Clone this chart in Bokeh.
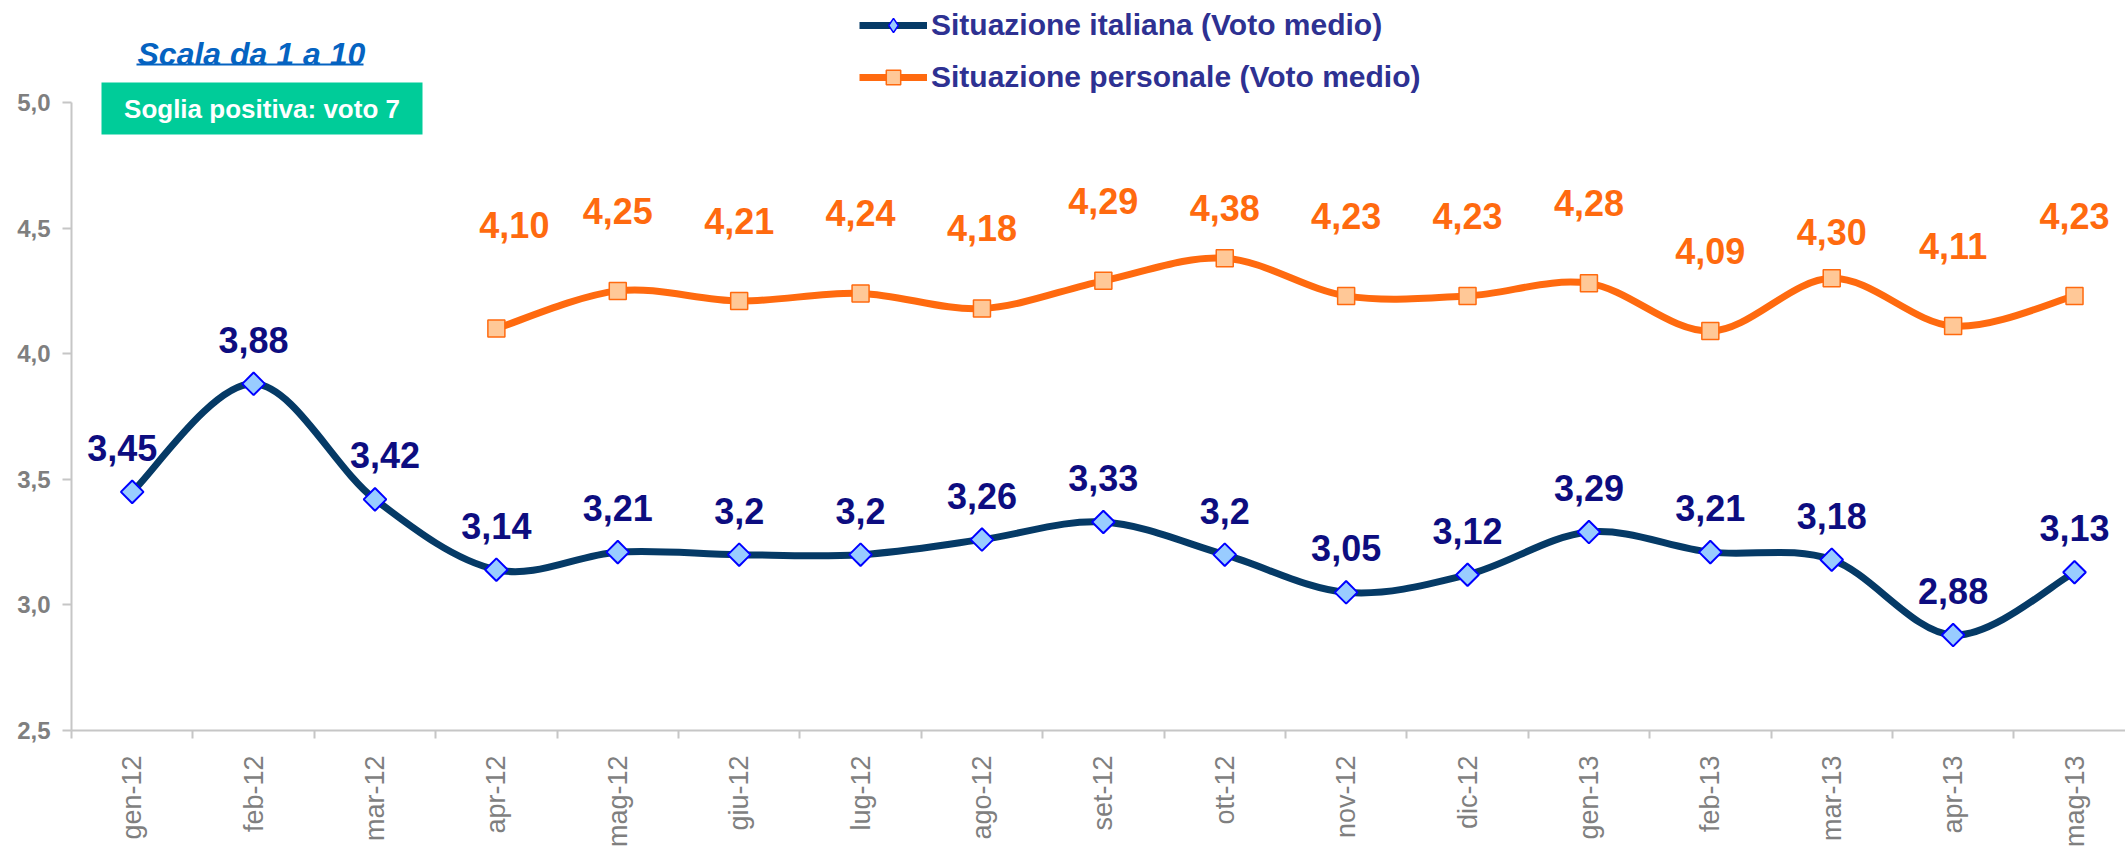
import math
from bokeh.plotting import figure
from bokeh.models import (FixedTicker, Range1d, ColumnDataSource, Label, BoxAnnotation,
                          Legend, LegendItem)
from bokeh.core.properties import value
from bokeh.embed import file_html
from bokeh.resources import INLINE

# ---------------- data ----------------
months = ["gen-12", "feb-12", "mar-12", "apr-12", "mag-12", "giu-12", "lug-12", "ago-12",
          "set-12", "ott-12", "nov-12", "dic-12", "gen-13", "feb-13", "mar-13", "apr-13", "mag-13"]
italiana = [3.45, 3.88, 3.42, 3.14, 3.21, 3.20, 3.20, 3.26, 3.33, 3.20, 3.05, 3.12, 3.29,
            3.21, 3.18, 2.88, 3.13]
personale = [None, None, None, 4.10, 4.25, 4.21, 4.24, 4.18, 4.29, 4.38, 4.23, 4.23, 4.28,
             4.09, 4.30, 4.11, 4.23]
y_ticks = [2.5, 3.0, 3.5, 4.0, 4.5, 5.0]
y_tick_labels = ["2,5", "3,0", "3,5", "4,0", "4,5", "5,0"]
title_text = "Scala da 1 a 10"
badge_text = "Soglia positiva: voto 7"
legend_labels = ["Situazione italiana (Voto medio)", "Situazione personale (Voto medio)"]

# ---------------- style ----------------
NAVY = "#053a66"
ORANGE = "#ff6a0f"
FONT = "Liberation Sans"
AXIS_GRAY = "#c6c6c6"
LABEL_GRAY = "#7f7f7f"

# label offsets (screen px) for the value labels
italiana_dx = {0: -10, 2: 10}
orange_dy = {3: -104, 9: -50, 14: -46}
orange_dx = {3: 18}


def smooth_segments(xs, ys):
    n = len(xs)
    d = dict(x0=[], y0=[], x1=[], y1=[], cx0=[], cy0=[], cx1=[], cy1=[])
    for i in range(n - 1):
        i0, i3 = max(i - 1, 0), min(i + 2, n - 1)
        d["x0"].append(xs[i]); d["y0"].append(ys[i])
        d["x1"].append(xs[i + 1]); d["y1"].append(ys[i + 1])
        d["cx0"].append(xs[i] + (xs[i + 1] - xs[i0]) / 6)
        d["cy0"].append(ys[i] + (ys[i + 1] - ys[i0]) / 6)
        d["cx1"].append(xs[i + 1] - (xs[i3] - xs[i]) / 6)
        d["cy1"].append(ys[i + 1] - (ys[i3] - ys[i]) / 6)
    return d


xi = list(range(len(months)))
xp = [i for i, v in enumerate(personale) if v is not None]
yp = [personale[i] for i in xp]

p = figure(width=2125, height=850,
           x_range=Range1d(-0.5, 16.42), y_range=Range1d(2.5, 5.406),
           output_backend="svg", toolbar_location=None,
           min_border_left=71, min_border_right=0, min_border_top=0, min_border_bottom=113)
p.extra_y_ranges = {"legend_only": Range1d(100, 101)}
p.outline_line_color = None
p.xgrid.visible = False
p.ygrid.visible = False
p.background_fill_color = "white"
p.border_fill_color = "white"

# y axis
ya = p.yaxis[0]
ya.ticker = FixedTicker(ticks=y_ticks, minor_ticks=[])
ya.major_label_overrides = {t: l for t, l in zip(y_ticks, y_tick_labels)}
ya.bounds = (2.5, 5.0)
ya.axis_line_color = AXIS_GRAY
ya.axis_line_width = 2
ya.major_tick_line_color = AXIS_GRAY
ya.major_tick_line_width = 2
ya.major_tick_in = 0
ya.major_tick_out = 9
ya.minor_tick_line_color = None
ya.major_label_text_font = FONT
ya.major_label_text_font_size = "24px"
ya.major_label_text_font_style = "bold"
ya.major_label_text_color = LABEL_GRAY
ya.major_label_standoff = 12

# x axis
xa = p.xaxis[0]
xa.ticker = FixedTicker(ticks=xi, minor_ticks=[i - 0.5 for i in range(len(months) + 1)])
xa.major_label_overrides = {i: m for i, m in enumerate(months)}
xa.axis_line_color = AXIS_GRAY
xa.axis_line_width = 2
xa.major_tick_line_color = None
xa.major_tick_in = 0
xa.major_tick_out = 0
xa.minor_tick_line_color = AXIS_GRAY
xa.minor_tick_line_width = 2
xa.minor_tick_in = 0
xa.minor_tick_out = 8
xa.major_label_orientation = math.pi / 2
xa.major_label_text_font = FONT
xa.major_label_text_font_size = "27px"
xa.major_label_text_color = LABEL_GRAY
xa.major_label_standoff = 17

# smooth lines
p.bezier(source=ColumnDataSource(smooth_segments(xi, italiana)),
         x0="x0", y0="y0", x1="x1", y1="y1", cx0="cx0", cy0="cy0", cx1="cx1", cy1="cy1",
         line_color=NAVY, line_width=7, line_cap="round")
p.bezier(source=ColumnDataSource(smooth_segments(xp, yp)),
         x0="x0", y0="y0", x1="x1", y1="y1", cx0="cx0", cy0="cy0", cx1="cx1", cy1="cy1",
         line_color=ORANGE, line_width=7, line_cap="round")

# markers
p.scatter(xi, italiana, marker="square", angle=math.pi / 4, size=16,
          fill_color="#99ccff", line_color="#0000ff", line_width=2)
p.scatter(xp, yp, marker="square", size=17,
          fill_color="#ffc897", line_color=ORANGE, line_width=1.5)

# value labels
it_src = ColumnDataSource(dict(x=xi, y=italiana,
                               t=[("%g" % v).replace(".", ",") for v in italiana],
                               dx=[italiana_dx.get(i, 0) for i in xi]))
p.text(x="x", y="y", text="t", source=it_src, y_offset=-44, x_offset="dx",
       text_align="center", text_baseline="middle",
       text_font=value(FONT), text_font_size="36px", text_font_style="bold",
       text_color="#0d0d80")
pe_src = ColumnDataSource(dict(x=xp, y=yp,
                               t=[("%.2f" % v).replace(".", ",") for v in yp],
                               dy=[orange_dy.get(i, -80) for i in xp],
                               dx=[orange_dx.get(i, 0) for i in xp]))
p.text(x="x", y="y", text="t", source=pe_src, y_offset="dy", x_offset="dx",
       text_align="center", text_baseline="middle",
       text_font=value(FONT), text_font_size="36px", text_font_style="bold",
       text_color=ORANGE)

# legend samples: same series drawn on an off-screen range, shown only in the legend
l1 = p.line(xi, italiana, y_range_name="legend_only", line_color=NAVY, line_width=7)
m1 = p.scatter(xi, italiana, y_range_name="legend_only", marker="diamond", size=14,
               fill_color="#99ccff", line_color="#0000ff", line_width=1.5)
l2 = p.line(xp, yp, y_range_name="legend_only", line_color=ORANGE, line_width=7)
m2 = p.scatter(xp, yp, y_range_name="legend_only", marker="square", size=14,
               fill_color="#ffc897", line_color=ORANGE, line_width=1.5)
legend = Legend(items=[LegendItem(label=legend_labels[0], renderers=[l1, m1]),
                       LegendItem(label=legend_labels[1], renderers=[l2, m2])],
                location=(788, 635), orientation="vertical",
                border_line_color=None, background_fill_alpha=0,
                padding=0, margin=0, spacing=16,
                glyph_width=68, glyph_height=36, label_height=36, label_standoff=4,
                label_text_font=FONT, label_text_font_size="30px",
                label_text_font_style="bold", label_text_color="#2e3192")
p.add_layout(legend, "center")

# title (italic, underlined)
p.add_layout(Label(x=66, y=677, x_units="screen", y_units="screen", text=title_text,
                   text_font=FONT, text_font_size="32px", text_font_style="bold italic",
                   text_color="#0563c1", text_align="left", text_baseline="alphabetic"))
p.add_layout(BoxAnnotation(left=65, right=292, bottom=665, top=667,
                           left_units="screen", right_units="screen",
                           top_units="screen", bottom_units="screen",
                           fill_color="#0563c1", fill_alpha=1, line_alpha=0))

# badge
p.add_layout(BoxAnnotation(left=30, right=351, top=648, bottom=596,
                           left_units="screen", right_units="screen",
                           top_units="screen", bottom_units="screen",
                           fill_color="#00cc99", fill_alpha=1, line_alpha=0))
p.add_layout(Label(x=190.5, y=622, x_units="screen", y_units="screen", text=badge_text,
                   text_font=FONT, text_font_size="26px", text_font_style="bold",
                   text_color="white", text_align="center", text_baseline="middle"))

open("out.html", "w").write(file_html(p, INLINE))
